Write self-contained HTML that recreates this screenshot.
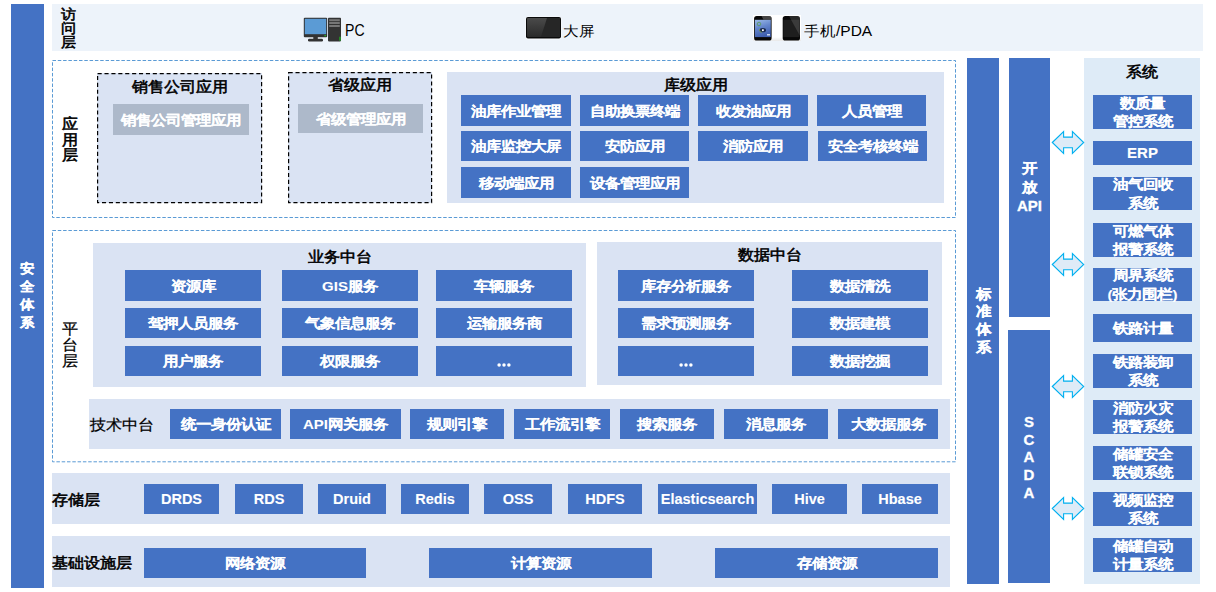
<!DOCTYPE html>
<html><head><meta charset="utf-8"><style>
html,body{margin:0;padding:0;width:1216px;height:592px;overflow:hidden;background:#fff;}
body{position:relative;font-family:"Liberation Sans",sans-serif;}
.a{position:absolute;}
.s{display:inline-block;transform:scaleY(0.9);}
.ttl .s,.lbl .s{transform:scaleY(0.93);}
.b{-webkit-text-stroke:0.1px currentColor;}
.vt{-webkit-text-stroke:0.3px currentColor;}
.lbl,.ttl{-webkit-text-stroke:0.6px currentColor;font-weight:normal !important;}
.b{color:#fff;font-weight:bold;font-size:15px;display:flex;align-items:center;justify-content:center;text-align:center;white-space:nowrap;box-sizing:border-box;padding-top:1px;}
.en{font-size:14.5px;padding-top:0;}
.sys{line-height:18.5px;padding-top:0;}
.en2{padding-top:0;}
.vt{color:#fff;font-weight:bold;font-size:15px;display:flex;align-items:center;justify-content:center;text-align:center;}
.sec{font-size:14.5px;line-height:18px;padding-right:1px;box-sizing:border-box;}
.std{line-height:17.6px;}
.api{line-height:18.6px;}
.scada{font-size:15px;line-height:17.75px;padding-top:2px;box-sizing:border-box;}
.lbl{font-weight:bold;font-size:16px;color:#000;}
.acc{font-size:15px;line-height:13.8px;}
.app2{line-height:15.6px;}
.app{line-height:16px;}
.ttl{font-weight:bold;font-size:16px;color:#000;text-align:center;white-space:nowrap;line-height:20px;padding-top:0.6px;}
.acct{font-size:15.5px;color:#000;line-height:20px;white-space:nowrap;padding-top:2px;}
</style></head><body>
<div class="a vt sec" style="left:11px;top:4px;width:33px;height:584px;background:#4472C4;"><div><span class="s">安</span><br><span class="s">全</span><br><span class="s">体</span><br><span class="s">系</span></div></div>
<div class="a" style="left:52px;top:4px;width:1151px;height:47px;background:#EDF3FA;"></div>
<div class="a lbl acc" style="left:61px;top:7px;"><span class="s">访</span><br><span class="s">问</span><br><span class="s">层</span></div>
<svg class="a" style="left:50px;top:58px" width="909" height="163"><rect x="2.50" y="2.50" width="903.00" height="157.00" fill="none" stroke="#5B9BD5" stroke-width="1" stroke-dasharray="3.5 1.8"/></svg>
<div class="a lbl app2" style="left:62px;top:116px;"><span class="s">应</span><br><span class="s">用</span><br><span class="s">层</span></div>
<div class="a" style="left:97px;top:73px;width:165px;height:130px;background:#DAE3F3;"></div>
<svg class="a" style="left:95px;top:71px" width="171" height="135"><rect x="2.60" y="2.60" width="164.00" height="129.00" fill="none" stroke="#000" stroke-width="1.2" stroke-dasharray="4.1 2.8"/></svg>
<div class="a ttl" style="left:97px;top:76px;width:165px;"><span class="s">销售公司应用</span></div>
<div class="a b" style="left:113px;top:104px;width:136px;height:31px;background:#ADB9CA;"><div><span class="s">销售公司管理应用</span></div></div>
<div class="a" style="left:288px;top:72px;width:144px;height:131px;background:#DAE3F3;"></div>
<svg class="a" style="left:286px;top:70px" width="149" height="136"><rect x="2.60" y="2.60" width="143.00" height="130.00" fill="none" stroke="#000" stroke-width="1.2" stroke-dasharray="4.1 2.8"/></svg>
<div class="a ttl" style="left:288px;top:74px;width:144px;"><span class="s">省级应用</span></div>
<div class="a b" style="left:298px;top:104px;width:125px;height:29px;background:#ADB9CA;"><div><span class="s">省级管理应用</span></div></div>
<div class="a" style="left:447px;top:72px;width:497px;height:131px;background:#DAE3F3;"></div>
<div class="a ttl" style="left:447px;top:74px;width:497px;"><span class="s">库级应用</span></div>
<div class="a b" style="left:461px;top:95px;width:110px;height:31px;background:#4472C4;"><div><span class="s">油库作业管理</span></div></div>
<div class="a b" style="left:580px;top:95px;width:109px;height:31px;background:#4472C4;"><div><span class="s">自助换票终端</span></div></div>
<div class="a b" style="left:698px;top:95px;width:110px;height:31px;background:#4472C4;"><div><span class="s">收发油应用</span></div></div>
<div class="a b" style="left:817px;top:95px;width:109px;height:31px;background:#4472C4;"><div><span class="s">人员管理</span></div></div>
<div class="a b" style="left:461px;top:131px;width:110px;height:30px;background:#4472C4;"><div><span class="s">油库监控大屏</span></div></div>
<div class="a b" style="left:580px;top:131px;width:109px;height:30px;background:#4472C4;"><div><span class="s">安防应用</span></div></div>
<div class="a b" style="left:698px;top:131px;width:110px;height:30px;background:#4472C4;"><div><span class="s">消防应用</span></div></div>
<div class="a b" style="left:818px;top:131px;width:109px;height:30px;background:#4472C4;"><div><span class="s">安全考核终端</span></div></div>
<div class="a b" style="left:461px;top:167px;width:110px;height:31px;background:#4472C4;"><div><span class="s">移动端应用</span></div></div>
<div class="a b" style="left:580px;top:167px;width:109px;height:31px;background:#4472C4;"><div><span class="s">设备管理应用</span></div></div>
<svg class="a" style="left:50px;top:228px" width="909" height="238"><rect x="2.50" y="2.50" width="903.00" height="231.30" fill="none" stroke="#5B9BD5" stroke-width="1" stroke-dasharray="3.5 1.8"/></svg>
<div class="a lbl app" style="left:62px;top:320.5px;font-weight:normal;-webkit-text-stroke:0.25px #000;line-height:16.4px;"><span class="s">平</span><br><span class="s">台</span><br><span class="s">层</span></div>
<div class="a" style="left:93px;top:243px;width:493px;height:144px;background:#DAE3F3;"></div>
<div class="a ttl" style="left:93px;top:246px;width:493px;"><span class="s">业务中台</span></div>
<div class="a b" style="left:125px;top:270px;width:136px;height:31px;background:#4472C4;"><div><span class="s">资源库</span></div></div>
<div class="a b" style="left:282px;top:270px;width:136px;height:31px;background:#4472C4;"><div><span class="s">GIS服务</span></div></div>
<div class="a b" style="left:436px;top:270px;width:136px;height:31px;background:#4472C4;"><div><span class="s">车辆服务</span></div></div>
<div class="a b" style="left:125px;top:308px;width:136px;height:30px;background:#4472C4;"><div><span class="s">驾押人员服务</span></div></div>
<div class="a b" style="left:282px;top:308px;width:136px;height:30px;background:#4472C4;"><div><span class="s">气象信息服务</span></div></div>
<div class="a b" style="left:436px;top:308px;width:136px;height:30px;background:#4472C4;"><div><span class="s">运输服务商</span></div></div>
<div class="a b" style="left:125px;top:346px;width:136px;height:30px;background:#4472C4;"><div><span class="s">用户服务</span></div></div>
<div class="a b" style="left:282px;top:346px;width:136px;height:30px;background:#4472C4;"><div><span class="s">权限服务</span></div></div>
<div class="a b" style="left:436px;top:346px;width:136px;height:30px;background:#4472C4;"><div><svg width="16" height="6" viewBox="0 0 16 6" style="display:block;margin-top:7px"><circle cx="3.1" cy="3" r="1.75" fill="#fff"/><circle cx="8" cy="3" r="1.75" fill="#fff"/><circle cx="12.9" cy="3" r="1.75" fill="#fff"/></svg></div></div>
<div class="a" style="left:597px;top:242px;width:345px;height:143px;background:#DAE3F3;"></div>
<div class="a ttl" style="left:597px;top:244px;width:345px;"><span class="s">数据中台</span></div>
<div class="a b" style="left:618px;top:270px;width:136px;height:31px;background:#4472C4;"><div><span class="s">库存分析服务</span></div></div>
<div class="a b" style="left:792px;top:270px;width:136px;height:31px;background:#4472C4;"><div><span class="s">数据清洗</span></div></div>
<div class="a b" style="left:618px;top:308px;width:136px;height:30px;background:#4472C4;"><div><span class="s">需求预测服务</span></div></div>
<div class="a b" style="left:792px;top:308px;width:136px;height:30px;background:#4472C4;"><div><span class="s">数据建模</span></div></div>
<div class="a b" style="left:618px;top:346px;width:136px;height:30px;background:#4472C4;"><div><svg width="16" height="6" viewBox="0 0 16 6" style="display:block;margin-top:7px"><circle cx="3.1" cy="3" r="1.75" fill="#fff"/><circle cx="8" cy="3" r="1.75" fill="#fff"/><circle cx="12.9" cy="3" r="1.75" fill="#fff"/></svg></div></div>
<div class="a b" style="left:792px;top:346px;width:136px;height:30px;background:#4472C4;"><div><span class="s">数据挖掘</span></div></div>
<div class="a" style="left:89px;top:399px;width:861px;height:50px;background:#DAE3F3;"></div>
<div class="a ttl" style="left:90px;top:414.3px;font-weight:normal;-webkit-text-stroke:0.25px #000;"><span class="s">技术中台</span></div>
<div class="a b" style="left:170px;top:409px;width:111px;height:30px;background:#4472C4;"><div><span class="s">统一身份认证</span></div></div>
<div class="a b" style="left:290px;top:409px;width:111px;height:30px;background:#4472C4;"><div><span class="s">API网关服务</span></div></div>
<div class="a b" style="left:410px;top:409px;width:94px;height:30px;background:#4472C4;"><div><span class="s">规则引擎</span></div></div>
<div class="a b" style="left:514px;top:409px;width:96px;height:30px;background:#4472C4;"><div><span class="s">工作流引擎</span></div></div>
<div class="a b" style="left:620px;top:409px;width:94px;height:30px;background:#4472C4;"><div><span class="s">搜索服务</span></div></div>
<div class="a b" style="left:724px;top:409px;width:104px;height:30px;background:#4472C4;"><div><span class="s">消息服务</span></div></div>
<div class="a b" style="left:838px;top:409px;width:100px;height:30px;background:#4472C4;"><div><span class="s">大数据服务</span></div></div>
<div class="a" style="left:52px;top:473px;width:898px;height:51px;background:#DAE3F3;"></div>
<div class="a ttl" style="left:52px;top:489px;"><span class="s">存储层</span></div>
<div class="a b en" style="left:144px;top:484px;width:75px;height:30px;background:#4472C4;"><div>DRDS</div></div>
<div class="a b en" style="left:235px;top:484px;width:68px;height:30px;background:#4472C4;"><div>RDS</div></div>
<div class="a b en" style="left:318px;top:484px;width:68px;height:30px;background:#4472C4;"><div>Druid</div></div>
<div class="a b en" style="left:401px;top:484px;width:68px;height:30px;background:#4472C4;"><div>Redis</div></div>
<div class="a b en" style="left:484px;top:484px;width:68px;height:30px;background:#4472C4;"><div>OSS</div></div>
<div class="a b en" style="left:568px;top:484px;width:74px;height:30px;background:#4472C4;"><div>HDFS</div></div>
<div class="a b en" style="left:658px;top:484px;width:99px;height:30px;background:#4472C4;"><div>Elasticsearch</div></div>
<div class="a b en" style="left:772px;top:484px;width:75px;height:30px;background:#4472C4;"><div>Hive</div></div>
<div class="a b en" style="left:862px;top:484px;width:76px;height:30px;background:#4472C4;"><div>Hbase</div></div>
<div class="a" style="left:52px;top:536px;width:898px;height:51px;background:#DAE3F3;"></div>
<div class="a ttl" style="left:52px;top:552.5px;"><span class="s">基础设施层</span></div>
<div class="a b" style="left:144px;top:548px;width:222px;height:30px;background:#4472C4;"><div><span class="s">网络资源</span></div></div>
<div class="a b" style="left:429px;top:548px;width:223px;height:30px;background:#4472C4;"><div><span class="s">计算资源</span></div></div>
<div class="a b" style="left:715px;top:548px;width:223px;height:30px;background:#4472C4;"><div><span class="s">存储资源</span></div></div>
<div class="a vt std" style="left:967px;top:58px;width:32px;height:526px;background:#4472C4;"><div><span class="s">标</span><br><span class="s">准</span><br><span class="s">体</span><br><span class="s">系</span></div></div>
<div class="a vt api" style="left:1009px;top:58px;width:41px;height:258.5px;background:#4472C4;"><div><span class="s">开</span><br><span class="s">放</span><br>API</div></div>
<div class="a vt scada" style="left:1008px;top:330px;width:42px;height:252.5px;background:#4472C4;"><div>S<br>C<br>A<br>D<br>A</div></div>
<div class="a" style="left:1084px;top:58px;width:116px;height:526px;background:#DEEBF7;"></div>
<div class="a ttl" style="left:1084px;top:61px;width:116px;"><span class="s">系统</span></div>
<div class="a b sys" style="left:1093px;top:95px;width:99px;height:34px;background:#4472C4;"><div><span class="s">数质量</span><br><span class="s">管控系统</span></div></div>
<div class="a b sys en2" style="left:1093px;top:141px;width:99px;height:24px;background:#4472C4;"><div>ERP</div></div>
<div class="a b sys" style="left:1093px;top:177px;width:99px;height:33px;background:#4472C4;"><div><span class="s">油气回收</span><br><span class="s">系统</span></div></div>
<div class="a b sys" style="left:1093px;top:223px;width:99px;height:34px;background:#4472C4;"><div><span class="s">可燃气体</span><br><span class="s">报警系统</span></div></div>
<div class="a b sys" style="left:1093px;top:268px;width:99px;height:33px;background:#4472C4;"><div><span class="s">周界系统</span><br><span class="s">(张力围栏)</span></div></div>
<div class="a b sys" style="left:1093px;top:314px;width:99px;height:28px;background:#4472C4;"><div><span class="s">铁路计量</span></div></div>
<div class="a b sys" style="left:1093px;top:354px;width:99px;height:34px;background:#4472C4;"><div><span class="s">铁路装卸</span><br><span class="s">系统</span></div></div>
<div class="a b sys" style="left:1093px;top:400px;width:99px;height:34px;background:#4472C4;"><div><span class="s">消防火灾</span><br><span class="s">报警系统</span></div></div>
<div class="a b sys" style="left:1093px;top:446px;width:99px;height:34px;background:#4472C4;"><div><span class="s">储罐安全</span><br><span class="s">联锁系统</span></div></div>
<div class="a b sys" style="left:1093px;top:492px;width:99px;height:34px;background:#4472C4;"><div><span class="s">视频监控</span><br><span class="s">系统</span></div></div>
<div class="a b sys" style="left:1093px;top:538px;width:99px;height:34px;background:#4472C4;"><div><span class="s">储罐自动</span><br><span class="s">计量系统</span></div></div>
<svg class="a" style="left:1051px;top:129.9px" width="35" height="26" viewBox="0 0 35 26"><path d="M1.3 12.5 L12.6 1.6 L12.6 7.1 L21.4 7.1 L21.4 1.6 L32.7 12.5 L21.4 23.4 L21.4 17.7 L12.6 17.7 L12.6 23.4 Z" fill="#DEEBF7" stroke="#00B0F0" stroke-width="1.1"/></svg>
<svg class="a" style="left:1051px;top:252.0px" width="35" height="26" viewBox="0 0 35 26"><path d="M1.3 12.5 L12.6 1.6 L12.6 7.1 L21.4 7.1 L21.4 1.6 L32.7 12.5 L21.4 23.4 L21.4 17.7 L12.6 17.7 L12.6 23.4 Z" fill="#DEEBF7" stroke="#00B0F0" stroke-width="1.1"/></svg>
<svg class="a" style="left:1051px;top:373.8px" width="35" height="26" viewBox="0 0 35 26"><path d="M1.3 12.5 L12.6 1.6 L12.6 7.1 L21.4 7.1 L21.4 1.6 L32.7 12.5 L21.4 23.4 L21.4 17.7 L12.6 17.7 L12.6 23.4 Z" fill="#DEEBF7" stroke="#00B0F0" stroke-width="1.1"/></svg>
<svg class="a" style="left:1051px;top:496.4px" width="35" height="26" viewBox="0 0 35 26"><path d="M1.3 12.5 L12.6 1.6 L12.6 7.1 L21.4 7.1 L21.4 1.6 L32.7 12.5 L21.4 23.4 L21.4 17.7 L12.6 17.7 L12.6 23.4 Z" fill="#DEEBF7" stroke="#00B0F0" stroke-width="1.1"/></svg>
<svg class="a" style="left:303px;top:17px" width="40" height="26" viewBox="0 0 40 26">
<rect x="0.8" y="0.8" width="23.4" height="19.4" rx="1" fill="#333"/>
<rect x="1.8" y="1.8" width="21.4" height="15.4" fill="#5B9BD5"/>
<rect x="21.5" y="18" width="1.3" height="1.3" fill="#2c2"/>
<rect x="10.3" y="19.5" width="4.5" height="3" fill="#333"/>
<rect x="5" y="21.7" width="15" height="2.7" rx="1.2" fill="#333"/>
<rect x="25" y="0.8" width="13" height="23.6" rx="0.8" fill="#333"/>
<rect x="26.2" y="2.2" width="10.6" height="2" fill="#777"/>
<rect x="26.2" y="5" width="10.6" height="2" fill="#777"/>
<rect x="26.2" y="8" width="10.6" height="2" fill="#777"/>
<rect x="36.3" y="19.7" width="1.4" height="4" fill="#2a2"/>
</svg>
<div class="a acct" style="left:345px;top:19px;transform:scaleX(0.88);transform-origin:0 0;font-size:16px;">PC</div>
<svg class="a" style="left:525px;top:16px" width="37" height="24" viewBox="0 0 37 24">
<defs><linearGradient id="g1" x1="0" y1="0" x2="0" y2="1"><stop offset="0" stop-color="#4a4a4a"/><stop offset="1" stop-color="#2a2a2a"/></linearGradient></defs>
<rect x="0.5" y="0.5" width="36" height="23" rx="2.5" fill="#fff" opacity="0.7"/>
<rect x="1" y="1" width="35" height="21.5" rx="2" fill="#0a0a0a"/>
<rect x="2" y="2" width="33" height="19" rx="1" fill="url(#g1)"/>
<path d="M22 2 L35 2 L35 21 L16 21 Z" fill="#262626"/>
</svg>
<div class="a acct" style="left:563px;top:19px;"><span class="s">大屏</span></div>
<svg class="a" style="left:753px;top:15px" width="48" height="26" viewBox="0 0 48 26">
<defs><linearGradient id="g2" x1="0" y1="0" x2="0.3" y2="1"><stop offset="0" stop-color="#9dbbe8"/><stop offset="0.5" stop-color="#6486cc"/><stop offset="1" stop-color="#4060b0"/></linearGradient>
<linearGradient id="g3" x1="0" y1="0" x2="0" y2="1"><stop offset="0" stop-color="#fff"/><stop offset="0.85" stop-color="#fff"/><stop offset="1" stop-color="#e8e8e8"/></linearGradient></defs>
<rect x="0" y="0" width="48" height="26" fill="url(#g3)"/>
<rect x="1.1" y="0.9" width="17.5" height="24.6" rx="2.6" fill="#080808"/>
<rect x="1.9" y="4.8" width="15.9" height="17.3" fill="url(#g2)"/>
<circle cx="6" cy="9" r="1.8" fill="none" stroke="#5a9a50" stroke-width="0.8"/>
<ellipse cx="9.8" cy="15.2" rx="3.2" ry="2.1" fill="#1a2a50"/>
<rect x="9" y="14.3" width="1.8" height="1.8" fill="#fff"/>
<path d="M6.5 14 Q6 17 9 17.5" fill="none" stroke="#8ab040" stroke-width="0.7"/>
<rect x="14" y="19" width="3" height="1.5" fill="#c8d8f0"/>
<path d="M8.5 0.9 L16 0.9 Q18.6 0.9 18.6 3.5 L18.6 4.8 L10.5 4.8 Z" fill="#777" opacity="0.55"/>
<rect x="29.7" y="0.9" width="17.3" height="24.6" rx="2.6" fill="#080808"/>
<rect x="30.4" y="4.8" width="15.9" height="17.3" fill="#1e1e1e"/>
<path d="M36 0.9 L44.4 0.9 Q47 0.9 47 3.5 L47 21 Z" fill="#fff" opacity="0.13"/>
</svg>
<div class="a acct" style="left:804px;top:19px;"><span class="s">手机/PDA</span></div>
</body></html>
